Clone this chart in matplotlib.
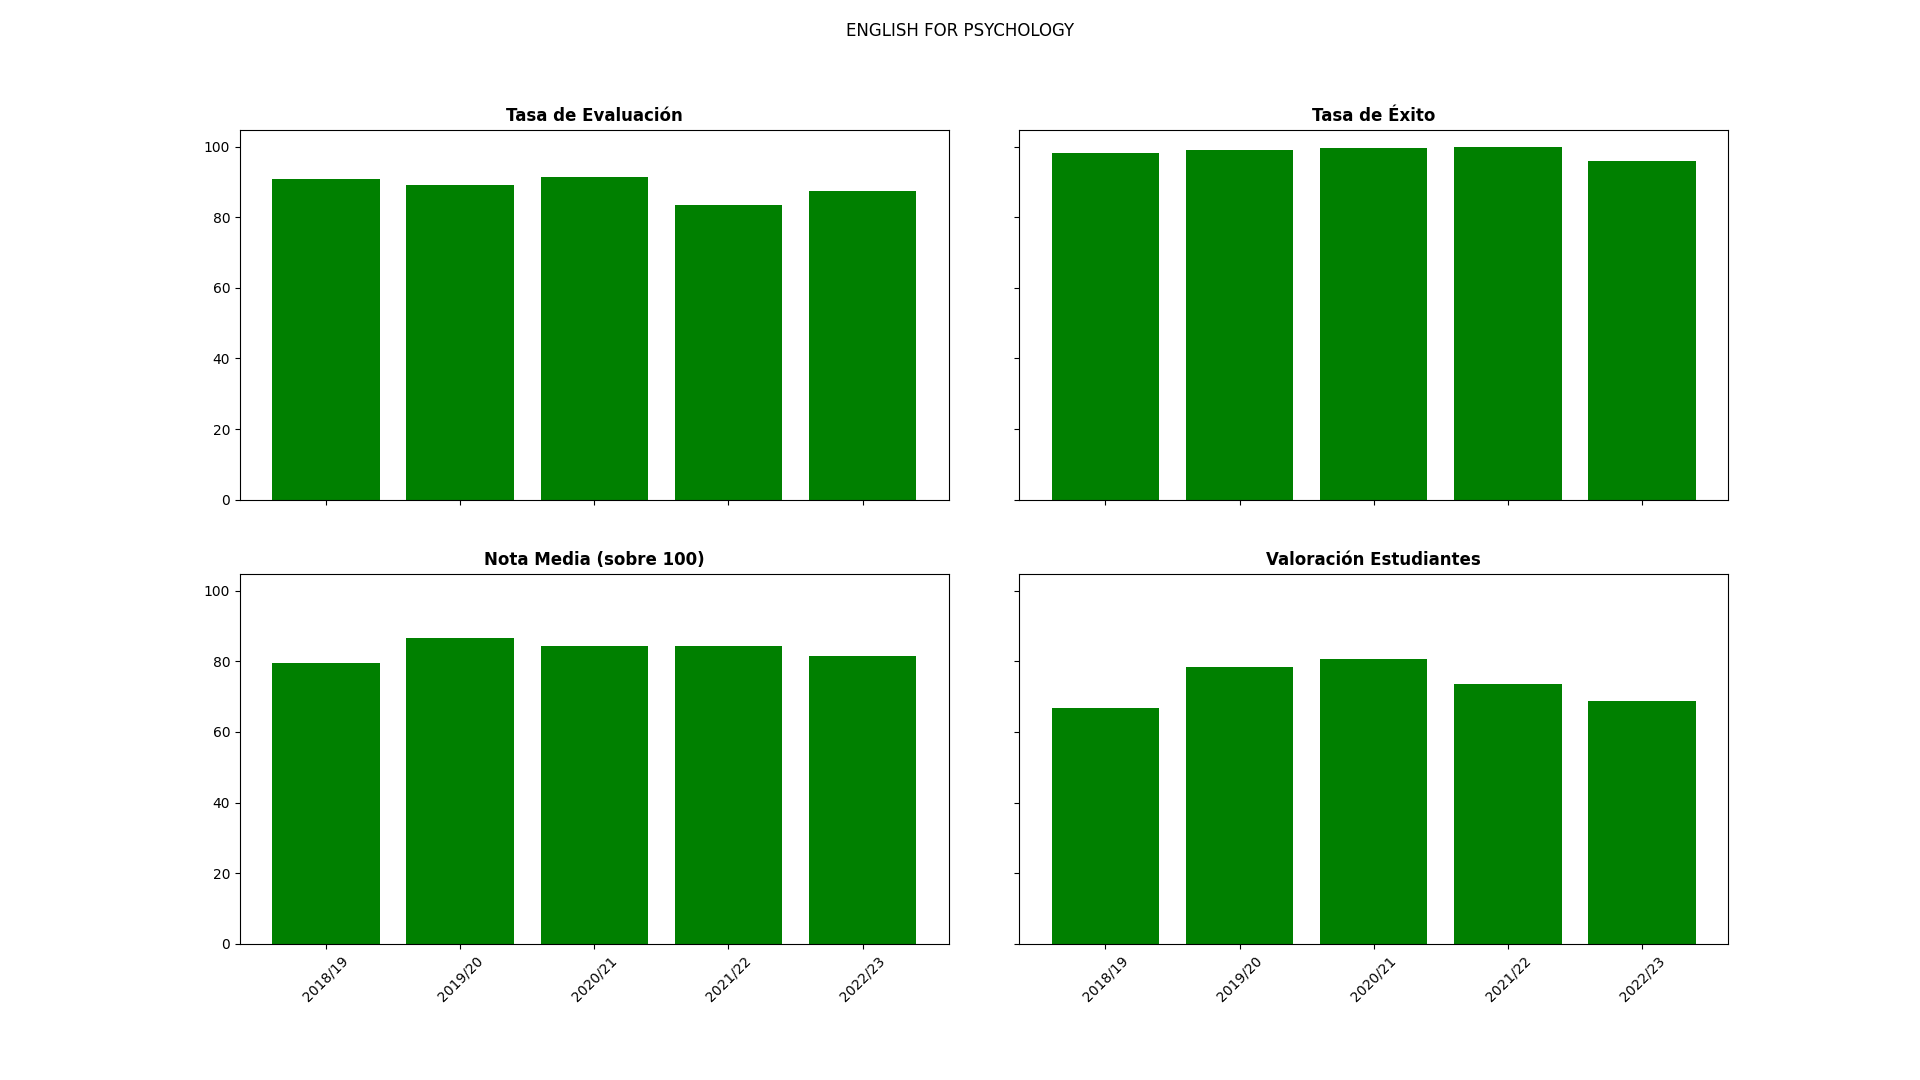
import matplotlib
matplotlib.use("Agg")
import matplotlib.pyplot as plt

cursos = ["2018/19", "2019/20", "2020/21", "2021/22", "2022/23"]

tasa_evaluacion = [90.8, 89.1, 91.4, 83.5, 87.4]
tasa_exito = [98.1, 99.0, 99.5, 99.8, 95.9]
nota_media = [79.5, 86.6, 84.3, 84.3, 81.5]
valoracion = [66.8, 78.4, 80.7, 73.6, 68.8]

titulos = ["Tasa de Evaluación", "Tasa de Éxito", "Nota Media (sobre 100)", "Valoración Estudiantes"]
series = [tasa_evaluacion, tasa_exito, nota_media, valoracion]

fig, axs = plt.subplots(2, 2, figsize=(19.2, 10.8), dpi=100, sharex=True, sharey=True)
fig.subplots_adjust(wspace=0.1, hspace=0.2, bottom=0.126)
fig.suptitle("ENGLISH FOR PSYCHOLOGY")

for ax, titulo, valores in zip(axs.flat, titulos, series):
    ax.bar(cursos, valores, color="green")
    ax.set_title(titulo, fontweight="bold")

for ax in axs[1]:
    ax.tick_params(axis="x", labelrotation=45)

fig.savefig("out.png")
